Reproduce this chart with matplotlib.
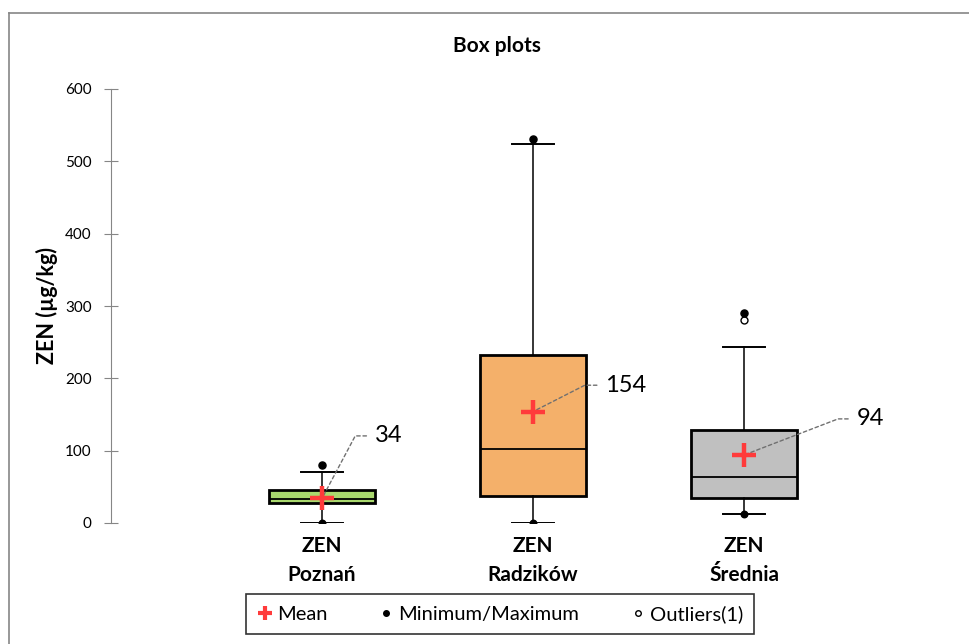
import matplotlib.pyplot as plt
from matplotlib.lines import Line2D

plt.rcParams['font.family'] = ['Lato', 'DejaVu Sans']

# Dane
grupy = ["ZEN\nPoznań", "ZEN\nRadzików", "ZEN\nŚrednia"]
q1 = [27, 37, 34]
mediana = [33, 102, 63]
q3 = [45, 232, 129]
wasy_dol = [0, 0, 13]
wasy_gora = [71, 524, 243]
minima = [0, 0, 13]
maksima = [80, 531, 290]
srednie = [34, 154, 94]
odstajace = [[], [], [281]]
kolory = ["#a9d86e", "#f4b06a", "#c0c0c0"]

# pozycje etykiet ze srednia (przesuniecie w punktach) i kat linii
przesun = [(38, 45), (52, 19), (81, 26)]
katy = [62, 27, 21]

fig = plt.figure(figsize=(9.7, 6.44), dpi=100)
ax = fig.add_axes([111 / 970, 1 - 523 / 644, 844 / 970, 434 / 644])

stats = []
for i in range(3):
    stats.append(dict(med=mediana[i], q1=q1[i], q3=q3[i], whislo=wasy_dol[i],
                      whishi=wasy_gora[i], fliers=odstajace[i], mean=srednie[i]))

pozycje = [1, 2, 3]
bp = ax.bxp(stats, positions=pozycje, widths=0.5, patch_artist=True,
            showfliers=True, showmeans=False,
            boxprops=dict(linewidth=2, edgecolor="black"),
            medianprops=dict(color="black", linewidth=1.3),
            whiskerprops=dict(color="black", linewidth=1.1),
            capprops=dict(color="black", linewidth=1.4),
            flierprops=dict(marker="o", markerfacecolor="white",
                            markeredgecolor="black", markersize=5),
            capwidths=0.2)
for patch, kolor in zip(bp["boxes"], kolory):
    patch.set_facecolor(kolor)

# minimum / maksimum
ax.scatter(pozycje, minima, s=22, color="black", zorder=4)
ax.scatter(pozycje, maksima, s=26, color="black", zorder=4)

# srednie
ax.plot(pozycje, srednie, linestyle="none", marker="+", markersize=17,
        markeredgewidth=3.2, color="#ff3b3b", zorder=5)

for x, m, (dx, dy), kat in zip(pozycje, srednie, przesun, katy):
    ax.annotate(str(m), xy=(x, m), xytext=(dx, dy), textcoords="offset points",
                fontsize=17, va="center", ha="left",
                arrowprops=dict(arrowstyle="-", linestyle=(0, (2.5, 2)),
                                color="#707070", lw=1,
                                connectionstyle=f"angle,angleA=0,angleB={kat},rad=0",
                                shrinkA=4, shrinkB=0))

ax.set_xlim(0, 4)
ax.set_ylim(0, 600)
ax.set_yticks(range(0, 601, 100))
ax.set_xticks(pozycje)
ax.set_xticklabels(grupy, fontsize=15, fontweight="bold", linespacing=1.6)
ax.tick_params(axis="x", length=0, pad=9)
ax.tick_params(axis="y", direction="inout", length=10, color="#868686",
               labelsize=11, pad=9)
for s in ["top", "right", "bottom"]:
    ax.spines[s].set_visible(False)
ax.spines["left"].set_color("#868686")

ax.set_ylabel("ZEN (µg/kg)", fontsize=15.5, fontweight="bold", labelpad=5)
fig.text(497 / 970, 1 - 46 / 644, "Box plots", fontsize=15, fontweight="bold",
         ha="center", va="center")

uchwyty = [
    Line2D([], [], linestyle="none", marker="+", markersize=10,
           markeredgewidth=3, color="#ff3b3b"),
    Line2D([], [], linestyle="none", marker="o", markersize=4, color="black"),
    Line2D([], [], linestyle="none", marker="o", markersize=4,
           markerfacecolor="white", markeredgecolor="black"),
]
leg = fig.legend(uchwyty, ["Mean", "Minimum/Maximum", "Outliers(1)"],
                 loc="center", bbox_to_anchor=(500 / 970, 1 - 614 / 644),
                 ncol=3, fontsize=14.5, frameon=True, fancybox=False,
                 handlelength=0.8, handletextpad=0.2, columnspacing=2.5,
                 borderpad=0.55, borderaxespad=0)
leg.get_frame().set_edgecolor("black")
leg.get_frame().set_linewidth(1.2)

# ramka wykresu
fig.add_artist(Line2D([9 / 970, 1], [1 - 13 / 644, 1 - 13 / 644],
                      color="#868686", lw=1.2, transform=fig.transFigure))
fig.add_artist(Line2D([9 / 970, 9 / 970], [0, 1 - 13 / 644],
                      color="#868686", lw=1.2, transform=fig.transFigure))

fig.savefig("out.png", dpi=100)
